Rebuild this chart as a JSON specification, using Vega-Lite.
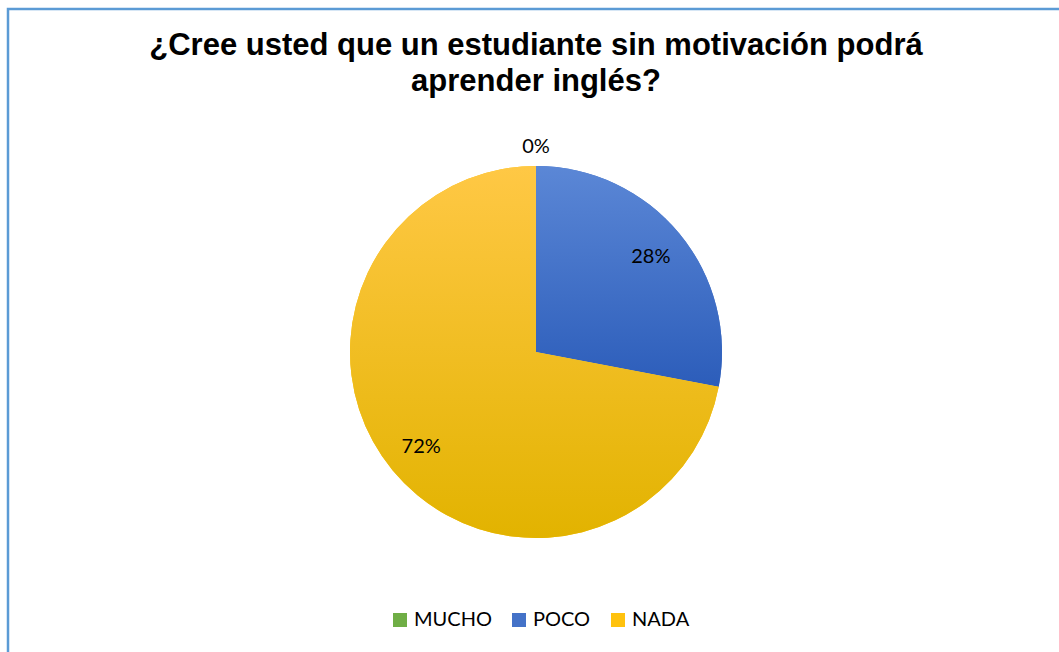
{
  "$schema": "https://vega.github.io/schema/vega-lite/v6.json",
  "autosize": {"type": "none"},
  "padding": {"left": 8, "top": 9, "right": 0, "bottom": 0},
  "width": 1056,
  "height": 686,
  "background": "white",
  "view": {"stroke": "#5B9BD5", "strokeWidth": 2.5, "fill": "white"},
  "config": {
    "view": {"stroke": "#5B9BD5", "strokeWidth": 2.5},
    "legend": {"padding": 0}
  },
  "title": {
    "text": ["¿Cree usted que un estudiante sin motivación podrá", "aprender inglés?"],
    "font": "Liberation Sans",
    "fontSize": 31,
    "fontWeight": "bold",
    "lineHeight": 36,
    "color": "#000000",
    "anchor": "middle",
    "frame": "group",
    "baseline": "alphabetic",
    "offset": -113
  },
  "data": {
    "values": [
      {"cat": "MUCHO", "valor": 0, "orden": 1},
      {"cat": "POCO", "valor": 0.28, "orden": 2},
      {"cat": "NADA", "valor": 0.72, "orden": 3}
    ]
  },
  "encoding": {
    "theta": {"field": "valor", "type": "quantitative", "stack": true},
    "order": {"field": "orden", "type": "quantitative"}
  },
  "layer": [
    {
      "mark": {"type": "arc", "radius": 186},
      "encoding": {
        "color": {
          "field": "cat",
          "type": "nominal",
          "scale": {"domain": ["MUCHO", "POCO", "NADA"], "range": ["#6FAE45", "#4472C8", "#FFC20E"]},
          "legend": {
            "title": null,
            "orient": "none",
            "direction": "horizontal",
            "legendX": 382,
            "legendY": 601,
            "symbolType": "square",
            "symbolSize": 196,
            "symbolStrokeWidth": 0,
            "symbolOpacity": 1,
            "labelFont": "Lato",
            "labelFontSize": 20,
            "labelColor": "#000000",
            "labelOffset": 4,
            "columnPadding": 17
          }
        }
      }
    },
    {
      "mark": {"type": "arc", "radius": 186},
      "encoding": {
        "detail": {"field": "cat"},
        "fill": {
          "condition": [
            {"test": "datum.cat === 'POCO'", "value": {"gradient": "linear", "x1": 0, "y1": 0, "x2": 0, "y2": 1, "stops": [{"offset": 0, "color": "#5B87D6"}, {"offset": 1, "color": "#2C5DBA"}]}},
            {"test": "datum.cat === 'MUCHO'", "value": "#6FAE45"}
          ],
          "value": {"gradient": "linear", "x1": 0, "y1": 0, "x2": 0, "y2": 1, "stops": [{"offset": 0, "color": "#FFC845"}, {"offset": 1, "color": "#E2B300"}]}
        }
      }
    },
    {
      "mark": {"type": "text", "radius": 149, "font": "Lato", "fontSize": 20, "color": "#000000", "align": "center", "baseline": "middle"},
      "encoding": {
        "detail": {"field": "cat"},
        "text": {"field": "valor", "type": "quantitative", "format": ".0%"},
        "opacity": {"condition": {"test": "datum.valor === 0", "value": 0}, "value": 1}
      }
    },
    {
      "mark": {"type": "text", "radius": 205, "font": "Lato", "fontSize": 20, "color": "#000000", "align": "center", "baseline": "middle"},
      "encoding": {
        "detail": {"field": "cat"},
        "text": {"field": "valor", "type": "quantitative", "format": ".0%"},
        "opacity": {"condition": {"test": "datum.valor === 0", "value": 1}, "value": 0}
      }
    }
  ]
}
